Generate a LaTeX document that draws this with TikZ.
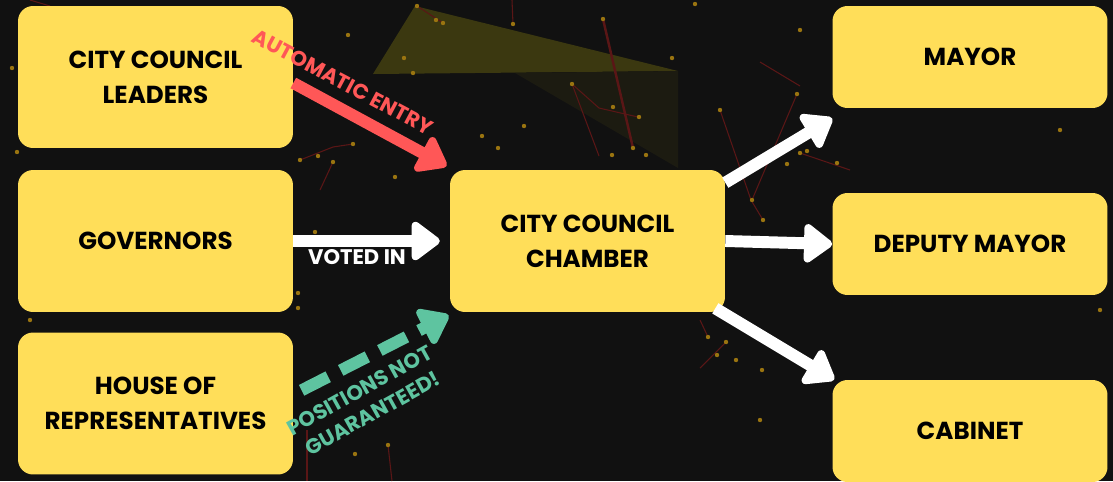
\documentclass[tikz,border=0pt]{standalone}
\usepackage{fontspec}
\setmainfont{Poppins}
\usetikzlibrary{arrows.meta,calc}
\definecolor{boxyellow}{HTML}{FFDE59}
\definecolor{arrowred}{HTML}{FF5757}
\definecolor{arrowgreen}{HTML}{5EC4A0}
\definecolor{bgdark}{HTML}{111111}
\definecolor{starline}{HTML}{5A1616}
\definecolor{stardot}{HTML}{9A7410}
\definecolor{glow}{HTML}{3B3810}
\tikzset{
  box/.style={fill=boxyellow, rounded corners=0.3cm, minimum width=5.5cm, minimum height=2.84cm,
    align=center, text=black, font=\bfseries\fontsize{14}{20}\selectfont},
  smallbox/.style={box, minimum height=2.04cm},
  flow/.style={line width=6.8pt, -{Triangle[length=0.62cm,width=0.88cm,round]}},
  tag/.style={align=center, font=\bfseries\fontsize{12}{15}\selectfont},
}

\begin{document}
\begin{tikzpicture}[x=0.02cm, y=-0.02cm]
	%%%%% BACKGROUND %%%%%
	\fill[bgdark] (0,0) rectangle (1113,481);
	\useasboundingbox (0,0) rectangle (1113,481);
	
	\fill[glow] (373,74) -- (415,6) -- (678,71) -- cycle;
	\fill[bgdark!75!glow] (515,73) -- (678,71) -- (678,168) -- cycle;
	
	\foreach \xa/\ya/\xb/\yb in {417/6/443/23, 512/0/513/24, 572/84/599/108, 599/108/638/117, 572/84/599/156,
	  300/160/333/147, 333/147/353/144, 333/162/320/190, 720/110/751/200, 751/200/763/220,
	  797/94/752/200, 800/153/850/170, 708/337/700/320, 726/342/700/368, 307/430/307/481,
	  388/445/392/481, 760/62/800/86, 30/0/50/6}
	  {\draw[starline, line width=0.6pt] (\xa,\ya) -- (\xb,\yb);}
	\draw[starline, line width=1.4pt] (603,19) -- (633,148);
	
	\foreach \x/\y in {417/6, 443/23, 513/24, 603/19, 572/84, 613/107, 639/117, 633/148, 646/155,
	  612/155, 524/126, 482/136, 498/148, 672/58, 695/4, 348/35, 413/73, 300/160, 318/156,
	  353/144, 333/162, 395/177, 797/94, 720/110, 752/200, 763/220, 800/153, 807/151, 787/164,
	  837/163, 708/337, 726/342, 717/355, 736/360, 762/370, 298/308, 388/445, 355/454, 12/68,
	  17/152, 436/20, 404/58, 315/232, 298/293, 1060/130, 1100/310, 800/30, 760/420, 30/320}
	  {\fill[stardot] (\x,\y) circle (2.2);}
	
	%%%%% BOXES %%%%%
	\node[box] (leaders) at (155.5,77) {CITY COUNCIL\\LEADERS};
	\node[box] (governors) at (155.5,241) {GOVERNORS};
	\node[box] (reps) at (155.5,403.5) {HOUSE OF\\REPRESENTATIVES};
	\node[box] (chamber) at (587.5,241) {CITY COUNCIL\\CHAMBER};
	\node[smallbox] (mayor) at (970,57) {MAYOR};
	\node[smallbox] (deputy) at (970,244) {DEPUTY MAYOR};
	\node[smallbox] (cabinet) at (970,431) {CABINET};
	
	%%%%% ARROWS %%%%%
	\draw[flow, arrowred, shorten >=2pt] ($(leaders.east)+(0,6)$) -- ($(chamber.north west)+(0,-2)$);
	\draw[flow, white, shorten >=5.6pt] (governors.east) -- (chamber.west);
	\draw[flow, arrowgreen, dash pattern=on 17pt off 8pt, shorten <=4pt] ($(reps.east)+(2,-10)$) -- ($(chamber.south west)+(-1,3)$);
	
	\draw[flow, white] ($(chamber.north east)+(0,13)$) -- ($(mayor.south west)+(0,10)$);
	\draw[flow, white] (chamber.east) -- (deputy.west);
	\draw[flow, white] ($(chamber.south east)+(-10,-4)$) -- ($(cabinet.north west)+(2,0)$);
	
	%%%%% LABELS %%%%%
	\node[tag, text=arrowred, rotate=-28] (auto) at (343,82) {AUTOMATIC ENTRY};
	\node[tag, text=white] (voted) at (357,257) {VOTED IN};
	\node[tag, text=arrowgreen, rotate=29] (pos) at (366,402) {POSITIONS NOT\\GUARANTEED!};
\end{tikzpicture}
\end{document}
